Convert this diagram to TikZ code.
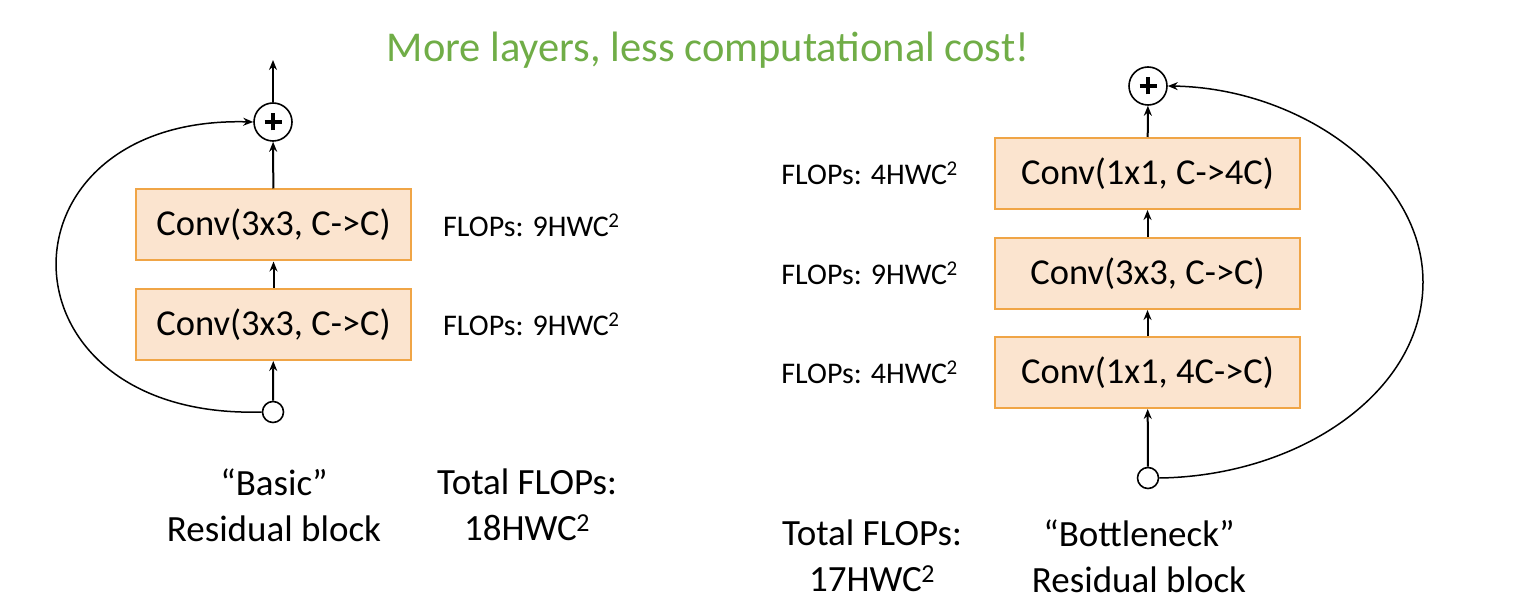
\documentclass[tikz,border=0pt]{standalone}
\usepackage{fontspec}
\setmainfont{Carlito}
\usetikzlibrary{arrows.meta}
\definecolor{boxfill}{RGB}{251,228,207}
\definecolor{boxline}{RGB}{240,165,70}
\definecolor{titlegreen}{RGB}{112,173,71}
\tikzset{
  convbox/.style={draw=boxline,fill=boxfill,line width=2pt,minimum width=275pt,minimum height=71pt,inner sep=0pt,font=\fontsize{36.5}{40}\selectfont},
  sumnode/.style={draw,circle,line width=1.6pt,minimum size=38pt,inner sep=0pt,
    path picture={\draw[line width=4.5pt] ([xshift=-8.5pt]path picture bounding box.center) -- ([xshift=8.5pt]path picture bounding box.center);
                  \draw[line width=4.5pt] ([yshift=-8.5pt]path picture bounding box.center) -- ([yshift=8.5pt]path picture bounding box.center);}},
  innode/.style={draw,circle,line width=1.6pt,fill=white,minimum size=21pt,inner sep=0pt},
  flow/.style={line width=2pt,-{Stealth[length=10pt,width=8pt]}},
  skip/.style={line width=1.5pt,-{Stealth[length=10pt,width=8pt]}},
  flops/.style={font=\fontsize{30}{33}\selectfont,inner sep=0pt},
  caption/.style={font=\fontsize{37}{46}\selectfont,align=center,inner sep=0pt},
}
\newcommand{\sqr}{\textsuperscript{\kern-0.5pt 2}}
\begin{document}
\begin{tikzpicture}[x=1pt,y=-1pt]
\useasboundingbox (0,0) rectangle (1514,601);
% title
\node[text=titlegreen,font=\fontsize{42.5}{46}\selectfont,inner sep=0pt] (title) at (708,50) {More layers, less computational cost!};
% left block
\node[sumnode] (p1) at (273,122) {};
\coordinate (o1) at (273,60);
\node[convbox] (b1) at (273.5,225) {Conv(3x3, C->C)};
\node[convbox] (b2) at (273.5,324.5) {Conv(3x3, C->C)};
\node[innode] (s1) at (273,412) {};
\draw[flow] (p1) -- (o1);
\draw[flow] (b1) -- (p1);
\draw[flow] (b2) -- (b1);
\draw[flow] (s1) -- (b2);
\draw[skip] (s1.west) .. controls (-10,420) and (-10,115) .. (p1.west);
\node[flops,anchor=west] (f1) at (443,225) {FLOPs: 9HWC\sqr};
\node[flops,anchor=west] (f2) at (443,324) {FLOPs: 9HWC\sqr};
\node[caption] (c1) at (274,505) {“Basic”\\Residual block};
\node[caption] (t1) at (527,505) {Total FLOPs:\\18HWC\sqr};
% right block
\node[sumnode] (p2) at (1148,86) {};
\node[convbox,minimum width=305pt] (r1) at (1147.5,173.5) {Conv(1x1, C->4C)};
\node[convbox,minimum width=305pt] (r2) at (1147.5,273.5) {Conv(3x3, C->C)};
\node[convbox,minimum width=305pt] (r3) at (1147.5,372.5) {Conv(1x1, 4C->C)};
\node[innode] (s2) at (1148,478) {};
\coordinate (rm) at (1423,282);
\draw[flow] (r1) -- (p2);
\draw[flow] (r2) -- (r1);
\draw[flow] (r3) -- (r2);
\draw[flow] (s2) -- (r3);
\draw[skip] (s2.east) .. controls (1300,476) and (1423,392) .. (rm) .. controls (1423,175) and (1300,88) .. (p2.east);
\node[flops,anchor=east] (g1) at (958,173) {FLOPs: 4HWC\sqr};
\node[flops,anchor=east] (g2) at (958,273) {FLOPs: 9HWC\sqr};
\node[flops,anchor=east] (g3) at (958,372) {FLOPs: 4HWC\sqr};
\node[caption] (t2) at (872,556) {Total FLOPs:\\17HWC\sqr};
\node[caption] (c2) at (1139,556) {“Bottleneck”\\Residual block};
\end{tikzpicture}
\end{document}
